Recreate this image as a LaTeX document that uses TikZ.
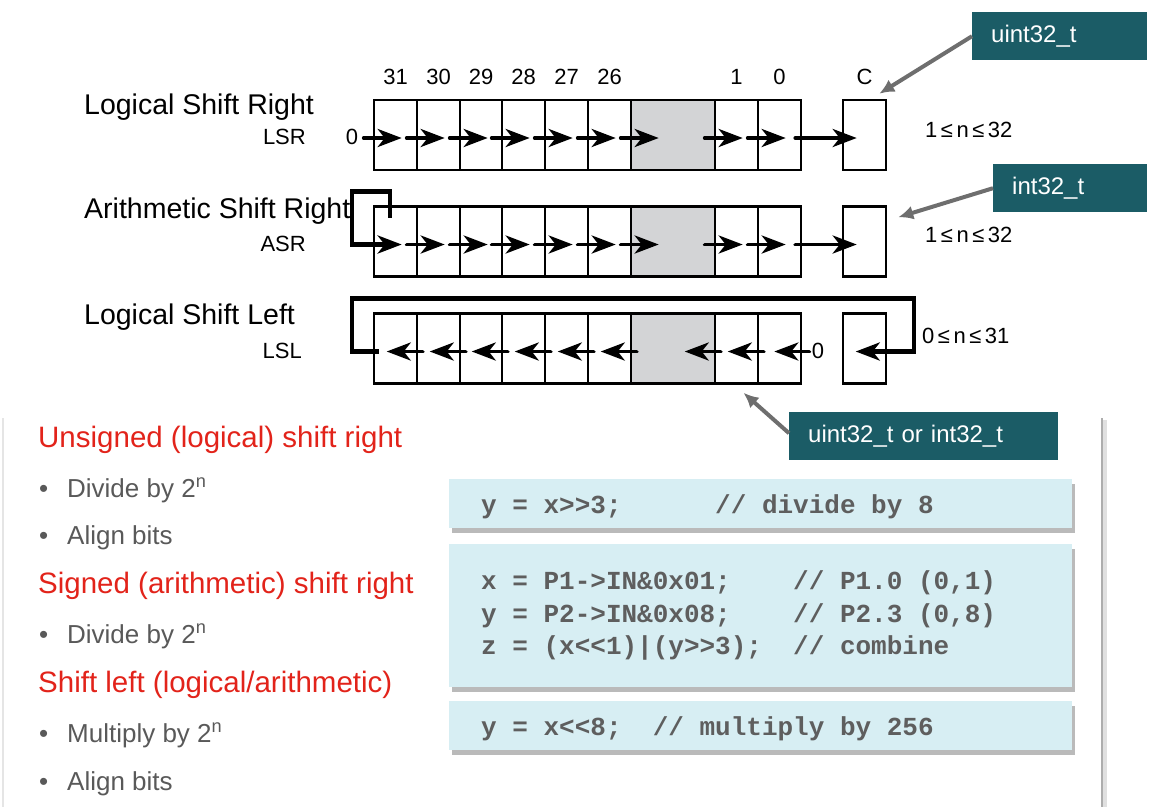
\documentclass[tikz,border=0pt]{standalone}
\usepackage{fontspec}
\setmainfont{Liberation Sans}
\setmonofont{Liberation Mono}
\usepackage{tikz}
\usetikzlibrary{arrows.meta,shadows}
\definecolor{labelteal}{HTML}{1B5C66}
\definecolor{codeblue}{HTML}{D7EEF3}
\definecolor{headred}{HTML}{E2231A}
\definecolor{bodygray}{HTML}{595959}
\definecolor{codegray}{HTML}{5E5E5E}
\definecolor{pointergray}{HTML}{6E6E6E}
\definecolor{gapgray}{HTML}{D3D4D6}
\tikzset{cell/.style={draw,line width=2.6pt,minimum height=70pt,inner sep=0pt},gap/.style={cell,fill=gapgray},shift arrow/.style={line width=3.8pt,line cap=round,-{Stealth[length=24pt,width=18pt,inset=7pt]}},feedback/.style={shift arrow,line width=4.4pt,line cap=butt,line join=miter},pointer/.style={draw=pointergray,line width=4pt,-{Latex[length=15pt,width=14pt]}},typebox/.style={fill=labelteal,text=white,font=\fontsize{24}{28}\selectfont,minimum height=48pt,inner xsep=19pt,inner ysep=0pt,align=left,anchor=north west},codebox/.style={fill=codeblue,drop shadow={shadow xshift=3pt,shadow yshift=-5pt,opacity=.45,fill=black!60},anchor=north west,inner xsep=32pt,inner ysep=0pt,text width=559pt,minimum width=623pt,align=left,text=codegray,font=\fontsize{26}{32.5}\selectfont\ttfamily\bfseries,execute at begin node={\spaceskip=15.6pt\relax\xspaceskip=15.6pt\relax}},one line/.style={text height=20pt,text depth=0pt},title/.style={anchor=base west,inner sep=0pt,font=\fontsize{28.5}{33}\selectfont},abbr/.style={anchor=base east,inner sep=0pt,font=\fontsize{22}{26}\selectfont},bitnum/.style={inner sep=0pt,font=\fontsize{22}{26}\selectfont},heading/.style={anchor=base west,inner sep=0pt,text=headred,font=\fontsize{29.5}{34}\selectfont},point/.style={anchor=base west,inner sep=0pt,text=bodygray,font=\fontsize{26}{30}\selectfont}}
\newcommand{\lesssign}{\hspace{3.5pt}≤\hspace{3.5pt}}

\begin{document}
\begin{tikzpicture}[x=1pt,y=-1pt]
 \useasboundingbox (0,0) rectangle (1155,807);

 % lower panel edges
 \draw[black!10,line width=1.5pt] (3,418) -- (3,807);
 \draw[black!12,line width=4pt] (1105,420) -- (1105,807);
 \draw[black!32,line width=2pt] (1102,418) -- (1102,807);

 \foreach \row/\yc in {lsr/135,asr/241.5,lsl/348.5} {
  \foreach \i/\a/\b/\s in {1/374/417/cell,2/417/460/cell,3/460/502/cell,4/502/545/cell,5/545/588/cell,6/588/631/cell,7/631/715/gap,8/715/758/cell,9/758/801/cell}
   {\node[\s,minimum width={(\b-\a)*1pt}] (\row\i) at ({(\a+\b)/2},\yc) {};}
  \node[cell,minimum width=43pt] (\row-c) at (864.5,\yc) {};
 }

 \node[title] (lsr-name) at (84,114) {Logical Shift Right};
 \node[abbr] (lsr-abbr) at (306,144) {LSR};
 \node[title] (asr-name) at (84,218) {Arithmetic Shift Right};
 \node[abbr] (asr-abbr) at (306,251) {ASR};
 \node[title] (lsl-name) at (84,324) {Logical Shift Left};
 \node[abbr] (lsl-abbr) at (302,358) {LSL};

 \foreach \i/\t in {1/31,2/30,3/29,4/28,5/27,6/26,8/1,9/0}
  {\node[bitnum,anchor=base] (num\i) at ([yshift=14pt]lsr\i.north) {\t};}
 \node[bitnum,anchor=base] (num-c) at ([yshift=14pt]lsr-c.north) {C};
 \node[bitnum] (lsr-in) at (352,137) {0};
 \node[bitnum] (lsl-in) at (818,351) {0};

 \node[bitnum,anchor=base west] (lsr-range) at (925,137) {1\lesssign n\lesssign 32};
 \node[bitnum,anchor=base west] (asr-range) at (925,242) {1\lesssign n\lesssign 32};
 \node[bitnum,anchor=base west] (lsl-range) at (922,343) {0\lesssign n\lesssign 31};

 \foreach \row/\first in {lsr/1,asr/2} {
  \foreach \i in {\first,...,9} {\draw[shift arrow] ([shift={(-9,3)}]\row\i.west) -- ([shift={(29,3)}]\row\i.west);}
  \draw[shift arrow] ([shift={(-7,3)}]\row9.east) -- ([shift={(15,3)}]\row-c.west);
 }
 \foreach \i in {2,...,9} {\draw[shift arrow] ([shift={(7,3)}]lsl\i.west) -- ([shift={(-29,3)}]lsl\i.west);}
 \draw[shift arrow] ([shift={(7,3)}]lsl9.east) -- ([shift={(-28,3)}]lsl9.east);

 \coordinate (asr-tap) at ([shift={(17,-24)}]asr1.west);
 \coordinate (asr-drop) at ([shift={(29,3)}]asr1.west);
 \draw[feedback] (asr-tap) -- ++(0,-26) -- ++(-38,0) -- ++(0,53) -- (asr-drop);
 \coordinate (lsl-tap) at ([shift={(6,3)}]lsl1.west);
 \coordinate (lsl-drop) at ([shift={(14,3)}]lsl-c.west);
 \draw[feedback] (lsl-tap) -- ++(-27,0) -- ++(0,-53) -- ++(562,0) -- ++(0,53) -- (lsl-drop);

 \node[typebox,text width=137pt] (uint-type) at (972,12) {uint32\_t};
 \node[typebox,text width=116pt] (int-type) at (993,164) {int32\_t};
 \node[typebox,text width=231pt] (any-type) at (789,412) {uint32\_t or int32\_t};
 \coordinate (uint-tip) at ([shift={(-8,-5)}]lsr-c.north east);
 \coordinate (int-tip) at ([shift={(11,12)}]asr-c.north east);
 \coordinate (any-tip) at ([shift={(-36,8)}]lsl9.south);
 \draw[pointer] (uint-type.west) -- (uint-tip);
 \draw[pointer] (int-type.west) -- (int-tip);
 \draw[pointer] ([yshift=3pt]any-type.west) -- (any-tip);

 \node[heading] (uns-head) at (38,447) {Unsigned (logical) shift right};
 \node[point] (uns-div) at (39,497) {\makebox[28pt][l]{\textbullet}Divide by 2\textsuperscript{n}};
 \node[point] (uns-align) at (39,544) {\makebox[28pt][l]{\textbullet}Align bits};
 \node[heading] (sgn-head) at (38,593) {Signed (arithmetic) shift right};
 \node[point] (sgn-div) at (39,643) {\makebox[28pt][l]{\textbullet}Divide by 2\textsuperscript{n}};
 \node[heading] (shl-head) at (38,692) {Shift left (logical/arithmetic)};
 \node[point] (shl-mul) at (39,742) {\makebox[28pt][l]{\textbullet}Multiply by 2\textsuperscript{n}};
 \node[point] (shl-align) at (39,790) {\makebox[28pt][l]{\textbullet}Align bits};

 \node[codebox,one line,minimum height=49pt] (code-div) at (449,479) {y = x>>3;~~~~~~// divide by 8};
 \node[codebox,minimum height=143pt] (code-port) at (449,544) {x = P1->IN\&0x01;~~~~// P1.0 (0,1)\\y = P2->IN\&0x08;~~~~// P2.3 (0,8)\\z = (x<<1)|(y>>3);~~// combine};
 \node[codebox,one line,minimum height=49pt] (code-mul) at (449,701) {y = x<<8;~~// multiply by 256};
\end{tikzpicture}
\end{document}
